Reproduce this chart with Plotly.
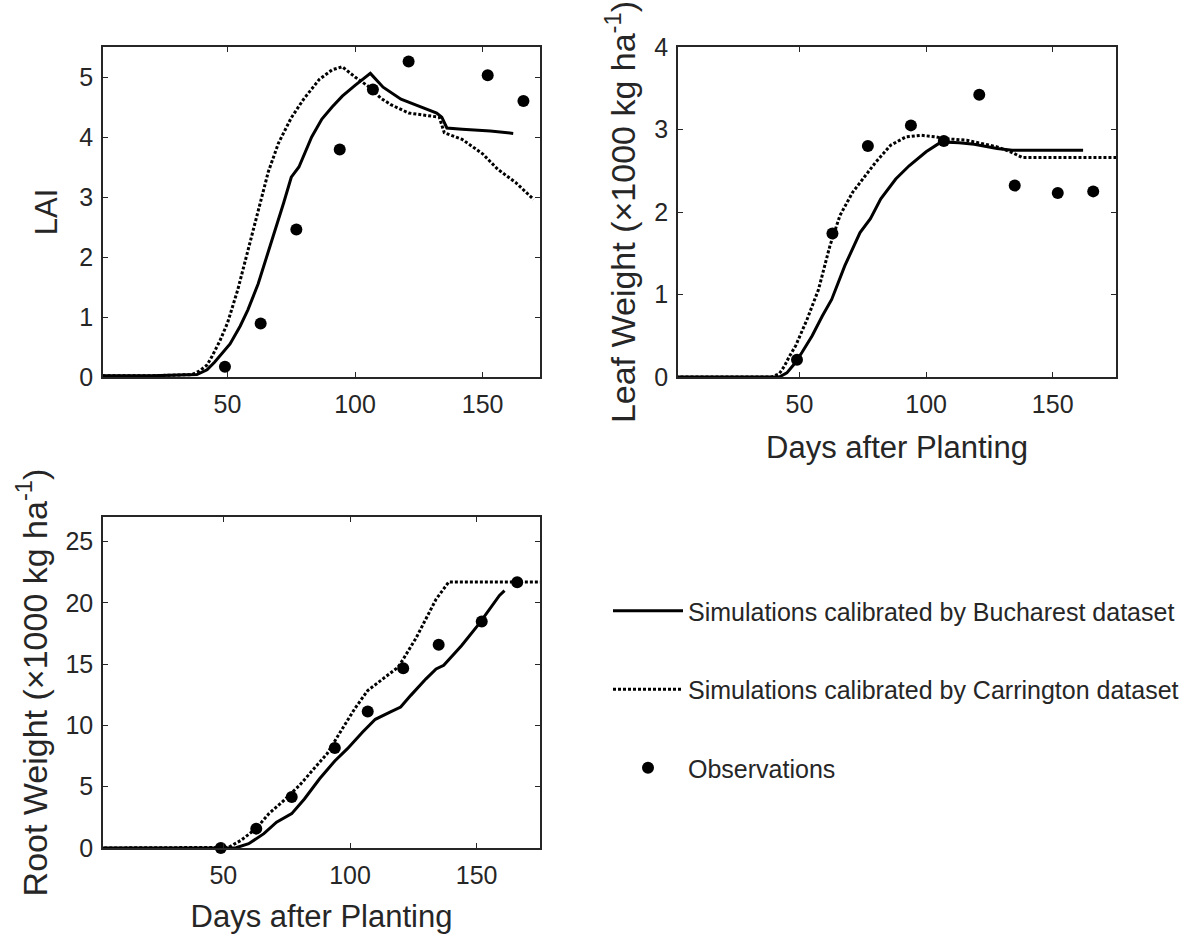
import plotly.graph_objects as go

# ---- LAI: simulated (two calibrations) and observed ----
lai_buch_days = [1, 20, 38, 42, 45, 48, 51, 55, 58, 62, 65, 68, 72, 75, 78, 83, 87, 91, 95,
                 100, 106, 111, 118, 124, 132, 134, 136, 142, 153, 162]
lai_buch = [0.02, 0.02, 0.04, 0.12, 0.25, 0.40, 0.55, 0.85, 1.12, 1.55, 1.95, 2.35, 2.90, 3.33,
            3.50, 4.00, 4.30, 4.50, 4.68, 4.86, 5.06, 4.83, 4.63, 4.53, 4.40, 4.33, 4.15, 4.13,
            4.10, 4.06]
lai_carr_days = [1, 20, 36, 39, 42, 44, 47, 50, 54, 58, 62, 66, 70, 75, 80, 86, 91, 95, 100,
                 106, 110, 114, 121, 128, 133, 135, 142, 150, 156, 163, 170]
lai_carr = [0.02, 0.02, 0.04, 0.10, 0.20, 0.35, 0.60, 0.90, 1.45, 2.10, 2.80, 3.42, 3.90, 4.32,
            4.64, 4.96, 5.12, 5.17, 5.00, 4.82, 4.65, 4.54, 4.40, 4.36, 4.33, 4.07, 3.96, 3.72,
            3.46, 3.24, 2.96]
lai_obs_days = [49, 63, 77, 94, 107, 121, 152, 166]
lai_obs = [0.17, 0.89, 2.46, 3.79, 4.79, 5.26, 5.03, 4.60]

# ---- Leaf weight (x1000 kg/ha) ----
leaf_buch_days = [1, 42, 45, 48, 51, 55, 59, 62.7, 67.9, 73.9, 78, 82.1, 88, 93.3, 100, 106,
                  113, 119, 128, 134, 162]
leaf_buch = [0, 0, 0.05, 0.16, 0.30, 0.50, 0.74, 0.94, 1.35, 1.75, 1.92, 2.16, 2.40, 2.56, 2.73,
             2.85, 2.84, 2.82, 2.77, 2.75, 2.75]
leaf_carr_days = [1, 39, 42, 44, 46, 48.5, 53, 57.5, 62, 66, 71, 75, 80, 86, 92, 98, 104, 107,
                  116, 128, 134, 138, 175]
leaf_carr = [0, 0, 0.04, 0.13, 0.25, 0.38, 0.70, 1.06, 1.59, 1.96, 2.24, 2.40, 2.60, 2.81, 2.91,
             2.93, 2.91, 2.89, 2.87, 2.79, 2.72, 2.66, 2.66]
obs_days = [49, 63, 77, 94, 107, 121, 135, 152, 166]
leaf_obs = [0.21, 1.74, 2.80, 3.05, 2.86, 3.42, 2.32, 2.23, 2.25]

# ---- Root weight (x1000 kg/ha) ----
root_buch_days = [1, 50, 55, 60, 66, 71, 77, 82, 88, 94, 99, 105, 110, 116, 120, 124, 130, 134,
                  137, 144, 151, 159, 161]
root_buch = [0, 0, 0.02, 0.35, 1.17, 2.10, 2.80, 4.00, 5.65, 7.10, 8.10, 9.46, 10.5, 11.1, 11.5,
             12.45, 13.8, 14.6, 14.9, 16.5, 18.3, 20.6, 21.0]
root_carr_days = [1, 50, 52, 57, 63, 68, 74, 80, 85, 91, 96, 102, 107, 113, 119, 121, 126, 130,
                  134, 139, 175]
root_carr = [0, 0, 0.05, 0.63, 1.60, 2.80, 3.90, 5.10, 6.30, 7.70, 9.40, 11.4, 12.85, 13.8,
             14.75, 15.4, 17.1, 18.7, 20.3, 21.7, 21.7]
root_obs = [0.0, 1.58, 4.16, 8.15, 11.14, 14.67, 16.58, 18.48, 21.68]

# ---- labels ----
name_buch = "Simulations calibrated by Bucharest dataset"
name_carr = "Simulations calibrated by Carrington dataset"
name_obs = "Observations"
x_title = "Days after Planting"
x_ticks = [50, 100, 150]

FONT = "Liberation Sans, Arial, Helvetica, sans-serif"
TXT = "#262626"
W, H = 1188, 940

fig = go.Figure()

panels = [
    ("x", "y", lai_buch_days, lai_buch, lai_carr_days, lai_carr, lai_obs_days, lai_obs, True),
    ("x2", "y2", leaf_buch_days, leaf_buch, leaf_carr_days, leaf_carr, obs_days, leaf_obs, False),
    ("x3", "y3", root_buch_days, root_buch, root_carr_days, root_carr, obs_days, root_obs, False),
]
for xa, ya, bd, bv, cd, cv, od, ov, show in panels:
    fig.add_trace(go.Scatter(x=bd, y=bv, xaxis=xa, yaxis=ya, mode="lines", name=name_buch,
                             legendgroup="buch", showlegend=show,
                             line=dict(color="black", width=3)))
    fig.add_trace(go.Scatter(x=cd, y=cv, xaxis=xa, yaxis=ya, mode="lines", name=name_carr,
                             legendgroup="carr", showlegend=show,
                             line=dict(color="black", width=3, dash="3px,2px")))
    fig.add_trace(go.Scatter(x=od, y=ov, xaxis=xa, yaxis=ya, mode="markers", name=name_obs,
                             legendgroup="obs", showlegend=show, cliponaxis=False,
                             marker=dict(color="black", size=12)))


def px_dom(a, b, total):
    return [a / total, b / total]


def py_dom(top, bottom):
    return [(H - bottom) / H, (H - top) / H]


axis_common = dict(showline=True, mirror="ticks", ticks="inside", ticklen=5, tickwidth=1,
                   linecolor=TXT, linewidth=1.5, tickcolor=TXT, showgrid=False, zeroline=False,
                   automargin=False, tickfont=dict(family=FONT, size=25, color=TXT))
title_font = dict(family=FONT, size=31, color=TXT)
ytitle_font = dict(family=FONT, size=34, color=TXT)

fig.update_layout(
    width=W, height=H,
    margin=dict(l=0, r=0, t=0, b=0),
    paper_bgcolor="white", plot_bgcolor="white",
    xaxis=dict(domain=px_dom(103, 540, W), anchor="y", range=[1.2, 172.5], tickvals=x_ticks,
               ticklabelstandoff=4, **axis_common),
    yaxis=dict(domain=py_dom(47, 377), anchor="x", range=[0, 5.5], tickvals=[0, 1, 2, 3, 4, 5],
               ticklabelstandoff=3, title=dict(text="LAI", font=title_font, standoff=12),
               **axis_common),
    xaxis2=dict(domain=px_dom(678, 1116, W), anchor="y2", range=[2, 175], tickvals=x_ticks,
                ticklabelstandoff=4, title=dict(text=x_title, font=title_font, standoff=20),
                **axis_common),
    yaxis2=dict(domain=py_dom(47, 377), anchor="x2", range=[0, 4], tickvals=[0, 1, 2, 3, 4],
                ticklabelstandoff=3,
                title=dict(text="Leaf Weight (×1000 kg ha<sup>-1</sup>)", font=ytitle_font,
                           standoff=8),
                **axis_common),
    xaxis3=dict(domain=px_dom(103, 540, W), anchor="y3", range=[2.5, 175], tickvals=x_ticks,
                ticklabelstandoff=4, title=dict(text=x_title, font=title_font, standoff=18),
                **axis_common),
    yaxis3=dict(domain=py_dom(517, 848), anchor="x3", range=[0, 27],
                tickvals=[0, 5, 10, 15, 20, 25], ticklabelstandoff=3,
                title=dict(text="Root Weight (×1000 kg ha<sup>-1</sup>)", font=ytitle_font,
                           standoff=8),
                **axis_common),
    legend=dict(x=608 / W, y=1 - 588 / H, xanchor="left", yanchor="top",
                bgcolor="rgba(0,0,0,0)", borderwidth=0, itemwidth=70, tracegroupgap=43,
                font=dict(family=FONT, size=25, color=TXT)),
    font=dict(family=FONT, color=TXT),
)

fig.write_html("out.html")
